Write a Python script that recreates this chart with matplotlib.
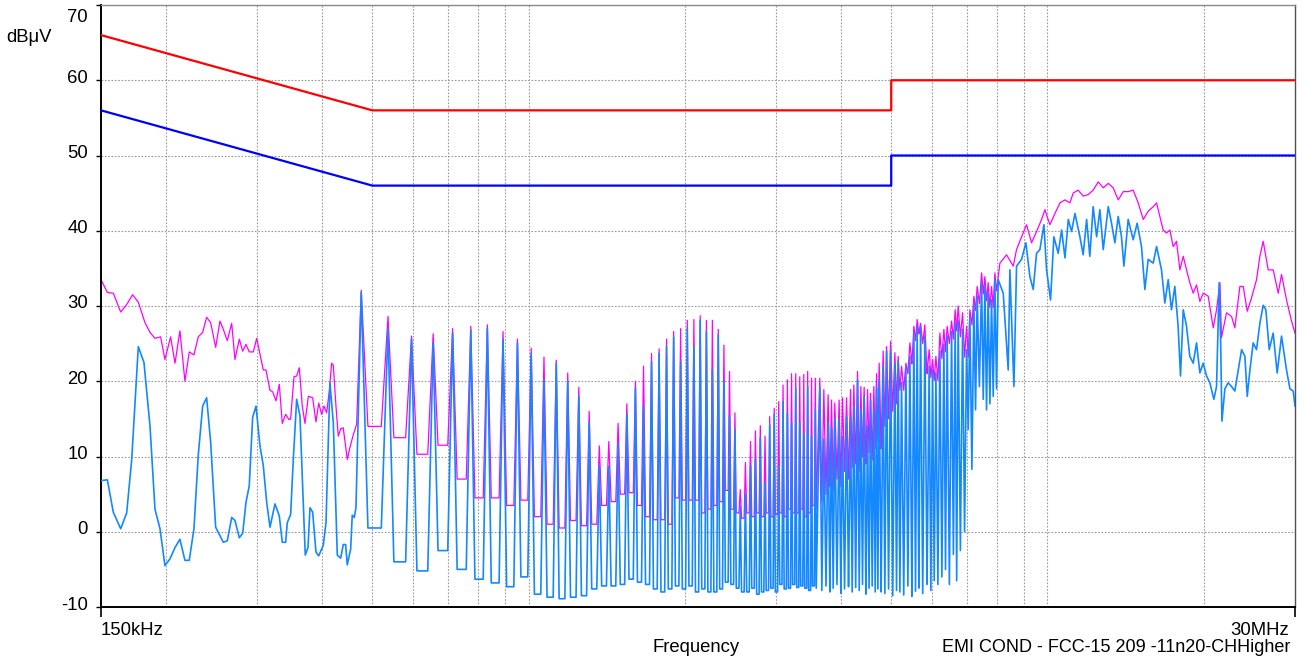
import numpy as np
import matplotlib
matplotlib.use("Agg")
import matplotlib.pyplot as plt
from matplotlib.ticker import NullFormatter
from matplotlib.transforms import ScaledTranslation

plt.rcParams["font.family"] = ["Liberation Sans", "DejaVu Sans"]

# ---------------- FCC 15.207 conducted limits ----------------
limit_mhz = [0.15, 0.5, 5.0, 5.0, 30.0]
qp_limit_db = [66, 56, 56, 60, 60]
avg_limit_db = [56, 46, 46, 50, 50]

# ---------------- 150 kHz - 465 kHz : measured vertices ----------------
lo_avg_mhz = [0.150, 0.1543, 0.1584, 0.1637, 0.1681, 0.1719, 0.1770, 0.1815, 0.1864, 0.1906,
              0.1949, 0.1992, 0.2037, 0.2083, 0.2129, 0.2177, 0.2219, 0.2266, 0.2309, 0.2355,
              0.2397, 0.2440, 0.2495, 0.2581, 0.2627, 0.2679, 0.2718, 0.2771, 0.2813, 0.2854,
              0.2896, 0.2940, 0.2984, 0.3037, 0.3082, 0.3129, 0.3175, 0.3246, 0.3309, 0.3353,
              0.3404, 0.3428, 0.3480, 0.3521, 0.3574, 0.3627, 0.3664, 0.3713, 0.3758, 0.3792,
              0.3837, 0.3894, 0.3941, 0.4022, 0.4071, 0.4143, 0.4205, 0.4280, 0.4345, 0.4395,
              0.4442, 0.4474, 0.4542, 0.4574, 0.4615, 0.4650]
lo_avg_db = [6.8, 6.9, 2.6, 0.4, 2.5, 9.6, 24.6, 22.5, 14.1, 3.0,
             0.4, -4.5, -3.6, -2.1, -1.0, -3.8, -3.8, 0.4, 10.1, 16.7,
             17.8, 11.9, 0.6, -1.4, -1.2, 1.9, 1.5, -0.8, -0.2, 3.9,
             6.1, 15.2, 16.7, 11.4, 8.8, 3.9, 0.6, 3.7, 2.1, -1.4,
             -1.4, 1.2, 2.3, 9.6, 17.6, 15.4, 7.4, -3.1, -2.1, 3.2,
             2.6, -2.7, -3.2, -1.8, 1.2, 19.8, 14.5, -3.1, -3.5, -1.7,
             -1.7, -4.4, -2.3, 2.2, 1.9, 3.2]

lo_pk_mhz = [0.150, 0.1543, 0.1584, 0.1637, 0.1681, 0.1726, 0.1770, 0.1823, 0.1864, 0.1906,
             0.1954, 0.1992, 0.2043, 0.2083, 0.2129, 0.2177, 0.2219, 0.2266, 0.2309, 0.2355,
             0.2397, 0.2440, 0.2495, 0.2543, 0.2581, 0.2627, 0.2679, 0.2718, 0.2771, 0.2813,
             0.2854, 0.2896, 0.2949, 0.2993, 0.3037, 0.3082, 0.3119, 0.3175, 0.3213, 0.3261,
             0.3309, 0.3353, 0.3404, 0.3454, 0.3480, 0.3532, 0.3574, 0.3616, 0.3664, 0.3708,
             0.3764, 0.3837, 0.3894, 0.3941, 0.3993, 0.4034, 0.4083, 0.4131, 0.4174, 0.4205,
             0.4255, 0.4299, 0.4345, 0.4395, 0.4474, 0.4527, 0.4595, 0.4664]
lo_pk_db = [33.5, 31.8, 31.7, 29.2, 30.2, 31.5, 30.5, 27.8, 26.5, 25.7,
            25.9, 22.9, 25.9, 22.4, 26.7, 20.0, 23.9, 23.5, 25.9, 26.5,
            28.5, 27.8, 24.5, 28.0, 26.9, 25.4, 27.7, 22.9, 25.6, 24.0,
            24.9, 23.9, 23.9, 25.7, 23.6, 21.5, 21.5, 18.8, 18.6, 17.4,
            19.6, 14.4, 15.6, 14.9, 15.0, 20.6, 20.7, 21.8, 16.7, 14.4,
            18.0, 17.8, 14.6, 17.1, 15.6, 16.7, 15.8, 18.7, 22.4, 22.1,
            16.7, 12.7, 13.7, 13.8, 9.6, 11.2, 12.9, 14.3]

# ---------------- harmonic comb 0.48 - 3.6 MHz (59.5 kHz spacing) ----------------
comb_mhz = [0.476, 0.536, 0.595, 0.655, 0.714, 0.774, 0.833, 0.893, 0.952, 1.012,
            1.071, 1.131, 1.190, 1.250, 1.309, 1.369, 1.428, 1.488, 1.547, 1.607,
            1.666, 1.726, 1.785, 1.845, 1.904, 1.964, 2.023, 2.083, 2.142, 2.202,
            2.261, 2.321, 2.380, 2.440, 2.499, 2.559, 2.618, 2.678, 2.737, 2.797,
            2.856, 2.916, 2.975, 3.035, 3.094, 3.154, 3.213, 3.273, 3.332, 3.392,
            3.451, 3.511, 3.570]
comb_avg_top = [31.8, 27.0, 25.6, 25.1, 26.4, 26.8, 27.0, 25.6, 25.1, 23.7,
                20.2, 22.4, 20.0, 18.0, 14.5, 8.7, 8.7, 11.8, 15.6, 19.1,
                16.7, 22.6, 23.7, 24.6, 25.9, 22.6, 27.0, 24.6, 28.1, 26.6,
                21.5, 26.2, 20.0, 15.3, 13.6, 3.4, 5.0, 8.7, 9.6, 12.5,
                6.5, 14.2, 15.6, 8.7, 17.3, 15.8, 14.5, 19.1, 14.5, 13.1,
                19.3, 12.7, 16.2]
comb_avg_floor = [0.5, -4.0, -5.2, -2.5, -5.0, -6.3, -6.8, -7.3, -6.0, -8.3,
                  -8.7, -8.9, -8.7, -8.5, -7.6, -7.2, -7.2, -7.0, -6.3, -6.7,
                  -7.0, -7.6, -8.0, -7.6, -7.2, -7.6, -7.2, -8.0, -7.6, -8.0,
                  -8.0, -7.6, -6.7, -7.0, -7.5, -8.0, -8.0, -7.5, -8.3, -8.0,
                  -7.8, -7.5, -8.0, -7.0, -7.6, -7.5, -7.0, -7.4, -7.2, -7.5,
                  -7.8, -7.2, -7.5]
comb_pk_top = [32.1, 28.6, 26.0, 26.3, 27.0, 27.3, 27.5, 26.6, 25.6, 24.4,
               23.2, 22.8, 21.1, 19.2, 16.0, 11.4, 12.0, 14.4, 17.0, 20.0,
               22.0, 23.7, 24.3, 25.6, 26.6, 27.0, 28.1, 28.2, 28.7, 28.1,
               28.1, 26.9, 24.8, 21.3, 15.8, 5.6, 9.2, 12.0, 13.4, 14.1,
               12.7, 15.3, 16.4, 17.3, 19.5, 20.2, 21.0, 21.0, 20.6, 20.9,
               21.3, 20.4, 20.4]
comb_pk_floor = [14.0, 12.5, 10.3, 11.5, 7.0, 4.5, 4.5, 3.5, 4.2, 2.0,
                 1.0, 0.5, 1.5, 0.8, 1.0, 3.5, 4.0, 5.0, 5.2, 3.5,
                 2.0, 1.6, 1.6, 1.0, 4.5, 4.2, 4.2, 4.2, 2.5, 3.0,
                 3.5, 4.0, 5.5, 3.0, 2.5, 1.8, 2.5, 2.0, 2.5, 2.0,
                 2.5, 2.0, 2.3, 2.5, 2.0, 3.0, 2.5, 2.5, 3.0, 2.0,
                 2.5, 3.5, 3.0]

# ---------------- dense spikes 3.6 - 8 MHz ----------------
dense_mhz = [3.642, 3.708, 3.779, 3.837, 3.893, 3.968, 4.029, 4.101, 4.174, 4.236,
             4.306, 4.370, 4.434, 4.502, 4.562, 4.629, 4.685, 4.740, 4.824, 4.898,
             4.986, 5.082, 5.157, 5.235, 5.336, 5.432, 5.529, 5.610, 5.696, 5.805,
             5.917, 6.007, 6.096, 6.205, 6.316, 6.409, 6.536, 6.641, 6.730, 6.863,
             6.985, 7.089, 7.216, 7.322, 7.467, 7.577, 7.688, 7.805, 7.920]
dense_avg_top = [19.1, 12.3, 14.5, 13.8, 15.1, 14.9, 12.7, 15.3, 15.1, 16.7,
                 20.2, 16.2, 18.0, 14.0, 17.5, 16.2, 19.1, 20.2, 22.0, 24.0,
                 24.0, 22.4, 22.7, 19.8, 22.0, 23.3, 26.4, 27.3, 27.3, 26.0,
                 22.0, 21.5, 21.1, 24.0, 24.9, 26.0, 26.6, 27.7, 28.0, 26.9,
                 24.2, 28.5, 30.4, 31.3, 33.1, 32.6, 31.7, 30.8, 33.5]
dense_avg_bot = [-7.8, -7.2, -8.0, -7.5, -7.0, -8.2, -7.6, -7.3, -8.0, -7.4,
                 -7.8, -7.0, -8.3, -7.5, -7.2, -8.0, -7.6, -8.0, -8.2, -7.6,
                 -8.5, -7.8, -8.0, -8.4, -7.2, -8.6, -7.9, -7.5, -8.2, -7.0,
                 -7.8, -6.5, -7.0, -6.0, -5.0, -7.0, -3.0, -6.5, -2.5, 0.0,
                 13.6, 8.3, 16.2, 19.3, 17.6, 16.2, 17.0, 18.0, 19.0]
dense_pk_top = [20.4, 18.9, 18.2, 17.5, 17.1, 17.5, 17.8, 17.8, 18.9, 19.5,
                21.3, 19.3, 19.2, 18.9, 18.4, 19.3, 21.0, 22.4, 24.0, 24.6,
                25.3, 23.8, 23.3, 22.0, 22.4, 25.1, 27.3, 28.2, 27.7, 27.5,
                24.2, 22.9, 23.3, 26.4, 26.9, 27.3, 28.0, 29.5, 30.0, 29.1,
                27.3, 29.5, 31.3, 32.6, 34.4, 33.9, 33.1, 32.6, 34.4]
dense_pk_bot = [4.0, 5.0, 6.0, 5.5, 7.0, 6.0, 8.0, 7.0, 8.5, 9.0,
                8.0, 10.0, 9.0, 10.5, 9.5, 11.0, 12.0, 11.0, 14.0, 15.0,
                16.0, 17.0, 18.8, 18.8, 21.0, 22.3, 25.4, 26.3, 25.0, 21.0,
                20.5, 20.1, 20.1, 23.0, 23.9, 25.0, 25.6, 26.7, 25.9, 23.2,
                23.2, 27.5, 29.4, 30.3, 31.6, 30.7, 29.8, 29.8, 32.0]

# ---------------- 8 - 30 MHz broadband ----------------
hi_avg_mhz = [8.038, 8.219, 8.403, 8.466, 8.618, 8.720, 8.916, 9.089, 9.251, 9.389,
              9.529, 9.672, 9.845, 9.962, 10.14, 10.29, 10.49, 10.65, 10.81, 10.97,
              11.13, 11.30, 11.55, 11.72, 11.90, 12.07, 12.25, 12.44, 12.62, 12.81,
              13.10, 13.29, 13.49, 13.69, 13.89, 14.04, 14.31, 14.63, 14.89, 15.18,
              15.41, 15.64, 15.99, 16.23, 16.59, 16.84, 17.09, 17.34, 17.60, 17.86,
              18.05, 18.27, 18.54, 18.81, 19.10, 19.38, 19.67, 19.96, 20.26, 20.56,
              20.93, 21.18, 21.43, 21.56, 21.69, 21.98, 22.30, 22.64, 22.97, 23.32,
              23.67, 24.02, 24.27, 24.56, 24.92, 25.29, 25.67, 26.05, 26.36, 26.76,
              27.23, 27.72, 28.26, 28.89, 29.33, 29.76, 30.0]
hi_avg_db = [33.5, 31.7, 21.5, 34.8, 19.3, 35.3, 36.2, 38.4, 33.9, 32.2,
             37.0, 37.5, 40.8, 34.8, 30.8, 39.2, 37.0, 40.1, 36.4, 41.5,
             39.9, 42.3, 39.2, 36.8, 41.5, 36.6, 43.2, 39.2, 42.8, 37.5,
             43.2, 41.0, 38.4, 41.9, 39.2, 35.3, 41.5, 38.8, 41.0, 37.9,
             32.2, 36.2, 35.7, 37.9, 34.8, 30.4, 33.5, 29.5, 32.6, 27.3,
             20.7, 29.5, 27.3, 23.3, 22.4, 25.1, 21.1, 22.4, 20.7, 19.8,
             17.6, 19.3, 33.1, 26.0, 14.7, 19.0, 19.8, 19.3, 18.7, 21.5,
             24.2, 23.3, 18.0, 21.5, 25.1, 24.2, 27.7, 30.1, 29.5, 24.2,
             26.4, 21.1, 26.0, 21.5, 19.0, 18.7, 16.7]
hi_pk_mhz = [8.098, 8.341, 8.592, 8.720, 8.916, 9.116, 9.320, 9.529, 9.744, 9.889,
             10.11, 10.34, 10.57, 10.81, 11.05, 11.21, 11.46, 11.72, 11.98, 12.25,
             12.53, 12.81, 13.10, 13.39, 13.69, 14.00, 14.31, 14.63, 14.96, 15.30,
             15.64, 15.99, 16.23, 16.47, 16.71, 16.96, 17.22, 17.47, 17.73, 18.00,
             18.27, 18.54, 18.81, 19.10, 19.38, 19.67, 19.96, 20.41, 20.87, 21.18,
             21.50, 21.65, 22.14, 22.64, 22.97, 23.49, 23.84, 24.27, 24.74, 25.29,
             25.67, 26.05, 26.64, 27.23, 27.85, 28.26, 28.89, 29.54, 30.0]
hi_pk_db = [35.7, 36.8, 35.3, 37.5, 39.2, 40.8, 38.4, 39.9, 41.5, 42.8,
            40.8, 42.3, 43.7, 44.1, 43.7, 45.0, 45.4, 44.6, 44.8, 45.4,
            46.5, 45.7, 46.3, 45.7, 44.1, 45.2, 45.2, 45.4, 43.7, 41.5,
            42.6, 43.2, 43.7, 41.9, 40.1, 39.7, 40.1, 37.9, 38.6, 34.8,
            36.6, 34.8, 33.1, 31.7, 32.8, 30.6, 31.7, 31.3, 27.1, 29.5,
            33.1, 25.8, 29.1, 28.6, 27.1, 32.6, 32.6, 29.3, 31.1, 33.5,
            36.6, 38.6, 34.8, 34.8, 31.7, 34.2, 30.8, 28.0, 26.4]

grid_mhz = [0.2, 0.3, 0.4, 0.5, 0.6, 0.7, 0.8, 0.9, 1, 2, 3, 4, 5, 6, 7, 8, 9, 10, 20]
level_ticks = [-10, 0, 10, 20, 30, 40, 50, 60, 70]


def spike_train(freqs, tops, floors, w):
    """Each spike: top at its frequency, feet a fraction w of the way to its neighbours."""
    xs, ys = [], []
    n = len(freqs)
    for i, (f, top) in enumerate(zip(freqs, tops)):
        if i > 0:
            xs.append(f * (freqs[i - 1] / f) ** w)
            ys.append(floors[i - 1])
        xs.append(f)
        ys.append(top)
        nxt = freqs[i + 1] if i + 1 < n else f * f / freqs[i - 1]
        xs.append(f * (nxt / f) ** w)
        ys.append(floors[i])
    return xs, ys


cx_a, cy_a = spike_train(comb_mhz, comb_avg_top, comb_avg_floor, 0.25)
cx_p, cy_p = spike_train(comb_mhz, comb_pk_top, comb_pk_floor, 0.25)
dx_a, dy_a = spike_train(dense_mhz, dense_avg_top, dense_avg_bot, 0.5)
dx_p, dy_p = spike_train(dense_mhz, dense_pk_top, dense_pk_bot, 0.5)

avg_f = np.array(lo_avg_mhz + cx_a + dx_a + hi_avg_mhz)
avg_v = np.array(lo_avg_db + cy_a + dy_a + hi_avg_db)
pk_f = np.array(lo_pk_mhz + cx_p + dx_p + hi_pk_mhz)
pk_v = np.array(lo_pk_db + cy_p + dy_p + hi_pk_db)

W, H = 1310, 662
fig = plt.figure(figsize=(W / 100, H / 100), dpi=100)
ax = fig.add_axes([101 / W, 1 - 607 / H, (1295 - 101) / W, (607 - 5) / H])
ax.set_xscale("log")
ax.set_xlim(0.15, 30)
ax.set_ylim(-10, 70)

grid_kw = dict(color="#9a9a9a", linestyle=(0, (1.5, 1.5)), linewidth=0.8)
ax.set_xticks([0.15, 30])
ax.set_xticklabels([])
ax.set_xticks(grid_mhz, minor=True)
ax.xaxis.set_minor_formatter(NullFormatter())
ax.tick_params(axis="x", which="major", direction="out", length=7.2, width=1.2, color="black")
ax.tick_params(axis="x", which="minor", length=0)
ax.xaxis.grid(True, which="minor", **grid_kw)
ax.xaxis.grid(False, which="major")

ax.set_yticks(level_ticks)
ax.set_yticklabels([])
ax.tick_params(axis="y", which="major", direction="out", length=3.6, width=1.0, color="black")
ax.yaxis.grid(True, which="major", **grid_kw)
ax.set_axisbelow(True)

for side in ("left", "bottom"):
    ax.spines[side].set_color("black")
    ax.spines[side].set_linewidth(1.4)
ax.spines["top"].set_color("#8a8a8a")
ax.spines["top"].set_linewidth(1.0)
ax.spines["right"].set_color("#505050")
ax.spines["right"].set_linewidth(1.0)

ax.plot(pk_f, pk_v, color="#ff00ff", linewidth=0.9, zorder=2)
ax.plot(avg_f, avg_v, color="#1488ff", linewidth=1.2, zorder=3)
ax.plot(limit_mhz, qp_limit_db, color="#ff0000", linewidth=1.6, zorder=4)
ax.plot(limit_mhz, avg_limit_db, color="#0000ff", linewidth=1.6, zorder=4)

fs = 13.3
ytrans = ax.get_yaxis_transform()
for v in level_ticks:
    dy = -0.17 if v == 70 else -0.025
    ax.text(0, v, str(v), ha="right", va="baseline", fontsize=fs,
            transform=ytrans + ScaledTranslation(-0.13, dy, fig.dpi_scale_trans))

xtrans = ax.get_xaxis_transform()
ax.text(0.15, 0, "150kHz", ha="left", va="baseline", fontsize=fs,
        transform=xtrans + ScaledTranslation(0.0, -0.28, fig.dpi_scale_trans))
ax.text(30, 0, "30MHz", ha="right", va="baseline", fontsize=fs,
        transform=xtrans + ScaledTranslation(-0.065, -0.28, fig.dpi_scale_trans))

fig.text(6 / W, 1 - 41.7 / H, "dBμV", ha="left", va="baseline", fontsize=fs)
fig.text(696 / W, 1 - 652 / H, "Frequency", ha="center", va="baseline", fontsize=fs)
fig.text(1290 / W, 1 - 652 / H, "EMI COND - FCC-15 209 -11n20-CHHigher",
         ha="right", va="baseline", fontsize=13)

fig.savefig("out.png", dpi=100)
